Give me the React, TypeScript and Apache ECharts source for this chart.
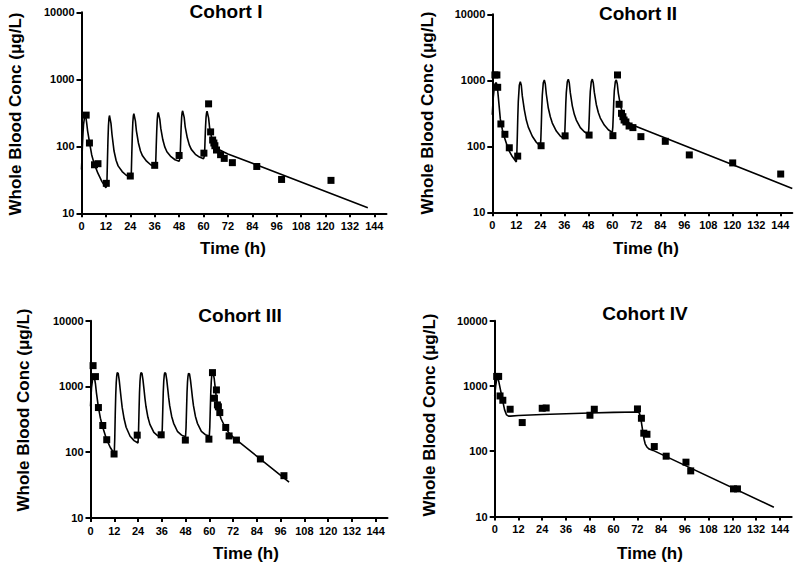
import React, { useEffect, useRef } from 'react';
import * as echarts from 'echarts';

const FONT = '"Liberation Sans", Arial, Helvetica, sans-serif';

const titles = ['Cohort I', 'Cohort II', 'Cohort III', 'Cohort IV'];
const xTicks = [0, 12, 24, 36, 48, 60, 72, 84, 96, 108, 120, 132, 144];
const yName = 'Whole Blood Conc (\u03bcg/L)';
const xName = 'Time (h)';

// Model curves [time (h), concentration (µg/L)]
const curveI = [
  [0, 45], [0.25, 70], [0.5, 110], [0.75, 160], [1, 210], [1.5, 275], [2, 290], [2.5, 230], [3, 170], [4, 112], [5, 75], [6, 58], [7, 48], [8, 40], [10, 30], [12, 24],
  [12.5, 28], [12.75, 60], [13, 120], [13.25, 200], [13.5, 260], [13.75, 288], [14, 290], [14.5, 220], [15, 150], [16, 85], [17, 62], [18, 51], [20, 42], [22, 37], [24, 35],
  [24.5, 40], [24.75, 80], [25, 150], [25.25, 230], [25.5, 285], [25.75, 308], [26, 310], [26.5, 240], [27, 170], [28, 112], [29, 85], [30, 72], [32, 60], [34, 53], [36, 50],
  [36.5, 56], [36.75, 100], [37, 170], [37.25, 250], [37.5, 300], [37.75, 320], [38, 323], [38.5, 255], [39, 185], [40, 125], [41, 97], [42, 83], [44, 70], [46, 63], [48, 60],
  [48.5, 67], [48.75, 115], [49, 190], [49.25, 270], [49.5, 320], [49.75, 338], [50, 340], [50.5, 270], [51, 195], [52, 135], [53, 105], [54, 90], [56, 76], [58, 69], [60, 65],
  [60.5, 72], [60.75, 120], [61, 195], [61.25, 270], [61.5, 315], [61.75, 333], [62, 335], [62.5, 265], [63, 190], [64, 135], [65, 110], [66, 98], [68, 88], [70, 82], [72, 77], [140.8, 12.1],
];
const curveII = [
  [0, 300], [0.25, 420], [0.5, 560], [1, 780], [1.5, 900], [2, 920], [2.5, 800], [3, 560], [4, 260], [5, 180], [6, 138], [8, 90], [10, 70], [12, 58],
  [12.25, 75], [12.5, 140], [12.75, 280], [13, 480], [13.5, 840], [14, 950], [14.5, 840], [15, 580], [16, 360], [17, 250], [18, 195], [20, 142], [22, 115], [24, 100],
  [24.25, 125], [24.5, 210], [24.75, 390], [25, 600], [25.5, 920], [26, 1010], [26.5, 880], [27, 620], [28, 380], [29, 280], [30, 225], [32, 170], [34, 143], [36, 130],
  [36.25, 160], [36.5, 260], [36.75, 450], [37, 650], [37.5, 950], [38, 1040], [38.5, 910], [39, 650], [40, 410], [41, 305], [42, 250], [44, 192], [46, 166], [48, 152],
  [48.25, 185], [48.5, 290], [48.75, 480], [49, 680], [49.5, 960], [50, 1040], [50.5, 910], [51, 660], [52, 430], [53, 325], [54, 268], [56, 210], [58, 178], [60, 162],
  [60.25, 195], [60.5, 300], [60.75, 490], [61, 690], [61.5, 950], [62, 1010], [62.5, 880], [63, 640], [64, 430], [65, 325], [66, 275], [68, 230], [70, 210], [72, 199], [150, 23],
];
const curveIII = [
  [0, 500], [0.25, 700], [0.5, 950], [1, 1250], [1.5, 1400], [2, 1350], [2.5, 1100], [3, 800], [4, 480], [5, 330], [6, 250], [8, 160], [10, 118], [12, 95],
  [12.25, 160], [12.5, 380], [12.75, 750], [13, 1150], [13.25, 1450], [13.5, 1620], [13.75, 1640], [14, 1580], [14.5, 1250], [15, 900], [15.5, 650], [16, 480], [17, 320], [18, 240], [20, 175], [22, 150], [24, 138],
  [24.25, 200], [24.5, 420], [24.75, 800], [25, 1200], [25.25, 1480], [25.5, 1620], [25.75, 1640], [26, 1580], [26.5, 1260], [27, 920], [27.5, 660], [28, 500], [29, 340], [30, 265], [32, 200], [34, 178], [36, 168],
  [36.25, 230], [36.5, 440], [36.75, 820], [37, 1210], [37.25, 1480], [37.5, 1620], [37.75, 1640], [38, 1580], [38.5, 1270], [39, 930], [39.5, 670], [40, 510], [41, 350], [42, 275], [44, 205], [46, 182], [48, 172],
  [48.25, 235], [48.5, 440], [48.75, 810], [49, 1180], [49.25, 1440], [49.5, 1580], [49.75, 1600], [50, 1550], [50.5, 1250], [51, 920], [51.5, 670], [52, 510], [53, 350], [54, 275], [56, 208], [58, 185], [60, 176],
  [60.25, 240], [60.5, 450], [60.75, 820], [61, 1200], [61.25, 1480], [61.5, 1620], [61.75, 1650], [62, 1600], [62.5, 1300], [63, 950], [63.5, 700], [64, 540], [65, 400], [66, 320], [68, 240], [70, 195], [72, 170], [100.3, 35],
];
const curveIV = [
  [0, 700], [0.5, 1000], [1, 1250], [1.5, 1300], [2, 1200], [3, 850], [4, 600], [5, 430], [6, 360], [7, 345], [8, 345], [12, 352], [24, 366], [36, 376], [48, 386], [60, 394], [72, 400],
  [73, 390], [73.5, 350], [74, 290], [74.5, 230], [75, 180], [75.5, 150], [76, 130], [77, 115], [78, 108], [80, 103], [141, 13.9],
];

// Observed concentrations [time (h), concentration (µg/L)]
const obsI = [
  [2.3, 292], [3.9, 112], [6.4, 53], [8.1, 55], [12.2, 28], [24, 36], [36, 52], [48, 73], [60.2, 79], [62.5, 430], [63.5, 164], [64.5, 124], [65.1, 112],
  [65.6, 102], [66.4, 88], [68.4, 75], [70.2, 66], [74.2, 57], [86.2, 50], [98.4, 32], [122.7, 31],
];
const obsII = [
  [1.3, 1205], [2.3, 1205], [2.7, 783], [4.3, 218], [6.3, 152], [8.5, 95], [12.7, 71], [24.4, 102], [36.4, 144], [48.4, 148], [60.3, 145], [62.6, 1205],
  [63.4, 433], [64.6, 316], [65.3, 281], [65.9, 250], [66.8, 234], [68.4, 203], [70.3, 192], [74.3, 140], [86.5, 119], [98.5, 74], [120.2, 56], [144.2, 38],
];
const obsIII = [
  [1.3, 2073], [2.5, 1412], [4.0, 478], [6.2, 255], [8.2, 155], [11.9, 94], [23.6, 182], [35.7, 184], [47.9, 153], [59.8, 158], [61.6, 1624], [62.6, 662],
  [63.6, 886], [64.1, 524], [64.6, 490], [65.3, 401], [68.3, 238], [70, 177], [73.7, 153], [85.8, 79], [97.7, 44],
];
const obsIV = [
  [1, 1400], [2, 1400], [2.7, 703], [4.1, 604], [7.8, 440], [13.9, 275], [24, 455], [26, 460], [48.1, 356], [50.3, 440], [72.1, 445], [74.1, 320],
  [75.3, 189], [76.9, 182], [80.6, 118], [86.6, 84], [96.6, 68], [99, 50], [120.6, 26.5], [122.6, 26.5],
];

const curves = [curveI, curveII, curveIII, curveIV];
const observed = [obsI, obsII, obsIII, obsIV];

export default function App() {
  const ref = useRef<HTMLDivElement>(null);
  useEffect(() => {
    if (!ref.current) return;
    const chart = echarts.init(ref.current, null, { renderer: 'svg' });
    const grids = [
      { left: 81.5, top: 12.3, width: 305, height: 201 },
      { left: 492.3, top: 14.3, width: 300, height: 198 },
      { left: 90.5, top: 320.7, width: 297, height: 197.3 },
      { left: 494.7, top: 320.7, width: 297, height: 195.8 },
    ];
    const titlePos = [[226, 11], [638, 13], [240, 315], [645, 313]];
    const yNamePos = [[15, 114], [427, 113], [23.5, 410], [429, 415]];
    const xNamePos = [[233, 248], [646, 248], [246, 553], [650, 553]];

    const axisLine = { show: true, lineStyle: { color: '#000', width: 2 } };
    const labelStyle = { color: '#000', fontFamily: FONT, fontWeight: 'bold' as const, fontSize: 11 };

    const xAxes = grids.map((_, i) => ({
      type: 'value', gridIndex: i, min: 0, max: 150,
      axisLine, splitLine: { show: false },
      axisTick: { show: true, inside: false, length: 4, lineStyle: { color: '#000', width: 2 }, customValues: xTicks },
      axisLabel: { ...labelStyle, margin: 7, customValues: xTicks, formatter: (v: number) => String(v) },
    }));
    const yAxes = grids.map((_, i) => ({
      type: 'log', logBase: 10, gridIndex: i, min: 10, max: 10000,
      axisLine, splitLine: { show: false }, minorTick: { show: false },
      axisTick: { show: true, inside: false, length: 5, lineStyle: { color: '#000', width: 2 } },
      axisLabel: { ...labelStyle, margin: 7, formatter: (v: number) => String(Math.round(v)) },
    }));

    const series: any[] = [];
    curves.forEach((c, i) => {
      series.push({
        type: 'line', xAxisIndex: i, yAxisIndex: i, data: c, symbol: 'none', showSymbol: false,
        lineStyle: { color: '#000', width: 1.6 }, smooth: false, z: 2,
      });
    });
    observed.forEach((o, i) => {
      series.push({
        type: 'scatter', xAxisIndex: i, yAxisIndex: i, data: o, symbol: 'rect', symbolSize: 7,
        itemStyle: { color: '#000', opacity: 1 }, z: 3,
      });
    });

    const graphic: any[] = [];
    titles.forEach((t, i) => {
      graphic.push({
        type: 'text', x: titlePos[i][0], y: titlePos[i][1],
        style: { text: t, fill: '#000', font: `bold 19px ${FONT}`, align: 'center', verticalAlign: 'middle' },
      });
      graphic.push({
        type: 'text', x: yNamePos[i][0], y: yNamePos[i][1], rotation: Math.PI / 2,
        style: { text: yName, fill: '#000', font: `bold 17px ${FONT}`, align: 'center', verticalAlign: 'middle' },
      });
      graphic.push({
        type: 'text', x: xNamePos[i][0], y: xNamePos[i][1],
        style: { text: xName, fill: '#000', font: `bold 17px ${FONT}`, align: 'center', verticalAlign: 'middle' },
      });
    });

    chart.setOption({
      animation: false,
      backgroundColor: '#fff',
      grid: grids,
      xAxis: xAxes,
      yAxis: yAxes,
      series,
      graphic,
    });
    return () => chart.dispose();
  }, []);
  return <div ref={ref} style={{ position: 'fixed', left: 0, top: 0, width: 800, height: 566, background: '#fff' }} />;
}
